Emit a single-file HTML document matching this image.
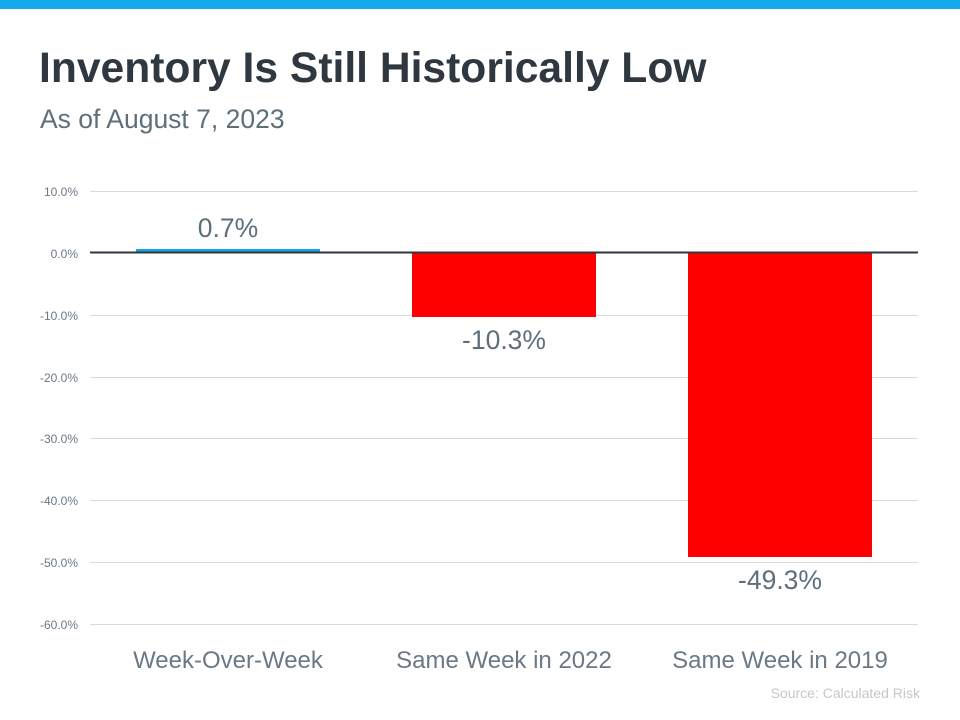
<!DOCTYPE html>
<html><head><style>body{margin:0;background:#fff}</style></head><body>
<svg width="960" height="720" xmlns="http://www.w3.org/2000/svg" style="display:block;font-family:'Liberation Sans',sans-serif">
<rect x="0" y="0" width="960" height="9" fill="#12aaeb"/>
<text x="39" y="82" font-size="42.6" font-weight="bold" fill="#2f3740">Inventory Is Still Historically Low</text>
<text x="40" y="128" font-size="26.5" fill="#5f6f7a">As of August 7, 2023</text>
<g stroke="#d9d9d9" stroke-width="1">
<line x1="90" x2="918" y1="191.5" y2="191.5"/>
<line x1="90" x2="918" y1="315.5" y2="315.5"/>
<line x1="90" x2="918" y1="377.5" y2="377.5"/>
<line x1="90" x2="918" y1="438.5" y2="438.5"/>
<line x1="90" x2="918" y1="500.5" y2="500.5"/>
<line x1="90" x2="918" y1="562.5" y2="562.5"/>
<line x1="90" x2="918" y1="624.5" y2="624.5"/>
</g>
<g font-size="12" fill="#6b7885" text-anchor="end">
<text x="78" y="196">10.0%</text>
<text x="78" y="258">0.0%</text>
<text x="78" y="320">-10.0%</text>
<text x="78" y="382">-20.0%</text>
<text x="78" y="443">-30.0%</text>
<text x="78" y="505">-40.0%</text>
<text x="78" y="567">-50.0%</text>
<text x="78" y="629">-60.0%</text>
</g>
<rect x="136" y="249" width="184" height="4" fill="#12a3e0"/>
<rect x="412" y="253" width="184" height="64" fill="#ff0000"/>
<rect x="688" y="253" width="184" height="304" fill="#ff0000"/>
<line x1="90" x2="918" y1="252.5" y2="252.5" stroke="#2f3740" stroke-width="2"/>
<g font-size="26.5" fill="#5f6f7a" text-anchor="middle">
<text x="228" y="237">0.7%</text>
<text x="504" y="349">-10.3%</text>
<text x="780" y="589">-49.3%</text>
</g>
<g font-size="24" fill="#6b7885" text-anchor="middle">
<text x="228" y="668">Week-Over-Week</text>
<text x="504" y="668">Same Week in 2022</text>
<text x="780" y="668">Same Week in 2019</text>
</g>
<text x="920" y="698" font-size="14" fill="#c3c8cd" text-anchor="end">Source: Calculated Risk</text>
</svg>
</body></html>
